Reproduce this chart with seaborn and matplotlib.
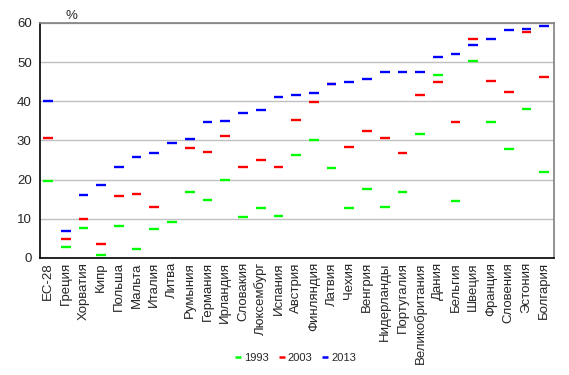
import numpy as np
import pandas as pd
import seaborn as sns
import matplotlib.pyplot as plt

countries = ['ЕС-28', 'Греция', 'Хорватия', 'Кипр', 'Польша', 'Мальта', 'Италия',
             'Литва', 'Румыния', 'Германия', 'Ирландия', 'Словакия', 'Люксембург',
             'Испания', 'Австрия', 'Финляндия', 'Латвия', 'Чехия', 'Венгрия',
             'Нидерланды', 'Португалия', 'Великобритания', 'Дания', 'Бельгия',
             'Швеция', 'Франция', 'Словения', 'Эстония', 'Болгария']

v1993 = [19.6, 2.9, 7.6, 0.7, 8.1, 2.3, 7.3, 9.1, 16.9, 14.8, 19.9, 10.5, 12.8,
         10.8, 26.4, 30.2, 23.0, 12.8, 17.7, 13.1, 16.9, 31.7, 46.8, 14.6,
         50.4, 34.8, 27.9, 38.1, 22.0]
v2003 = [30.7, 4.9, 9.9, 3.6, 15.8, 16.4, 13.1, np.nan, 28.2, 27.1, 31.2, 23.3, 25.1,
         23.3, 35.3, 39.9, 44.3, 28.4, 32.3, 30.7, 26.9, 41.5, 45.0, 34.8,
         56.0, 45.3, 42.5, 57.8, 46.1]
v2013 = [40.0, 7.0, 16.1, 18.7, 23.3, 25.9, 26.8, 29.4, 30.5, 34.8, 35.1, 37.1, 37.9,
         41.0, 41.5, 42.2, 44.5, 45.0, 45.6, 47.4, 47.6, 47.6, 51.4, 52.2,
         54.5, 55.8, 58.1, 58.4, 59.2]

years = ['1993', '2003', '2013']
colors = {'1993': '#00ff00', '2003': '#ff0000', '2013': '#0000ff'}

df = pd.DataFrame({'country': countries, '1993': v1993, '2003': v2003, '2013': v2013})
long = df.melt(id_vars='country', value_vars=years, var_name='year', value_name='value')

sns.set_style('white')
plt.rcParams['font.family'] = ['Liberation Sans', 'DejaVu Sans']

fig = plt.figure(figsize=(5.69, 3.75), dpi=100)
ax = fig.add_axes([0.0703, 0.312, 0.9033, 0.6267])

sns.stripplot(data=long, x='country', y='value', hue='year', hue_order=years,
              palette=colors, marker='_', jitter=False, dodge=False, size=7,
              linewidth=1.7, ax=ax, legend=False)

ax.set_ylim(0, 60)
ax.set_xlim(-0.45, 28.55)
ax.set_yticks(range(0, 61, 10))
ax.yaxis.grid(True, color='#c0c0c0', linewidth=1)
ax.xaxis.grid(False)
ax.set_axisbelow(True)
ax.set_xlabel('')
ax.set_ylabel('')
ax.tick_params(axis='x', rotation=90, labelsize=9.5, length=0, pad=3)
ax.tick_params(axis='y', labelsize=9.5, length=0, pad=6)
for lbl in ax.get_xticklabels():
    lbl.set_va('top')

for side in ['left', 'bottom']:
    ax.spines[side].set_color('black')
    ax.spines[side].set_linewidth(1.2)
for side in ['top', 'right']:
    ax.spines[side].set_color('#808080')
    ax.spines[side].set_linewidth(1.2)

ax.text(1.35, 60.3, '%', fontsize=9.5, ha='center', va='bottom')

handles = [plt.Line2D([], [], color=colors[y], marker='_', linestyle='',
                      markersize=4.5, markeredgewidth=1.8) for y in years]
fig.legend(handles, years, loc='center', bbox_to_anchor=(0.52, 0.045), ncol=3,
           frameon=False, fontsize=8, handlelength=0.5, handletextpad=0.3,
           columnspacing=0.9)

plt.savefig('out.png', dpi=100)
